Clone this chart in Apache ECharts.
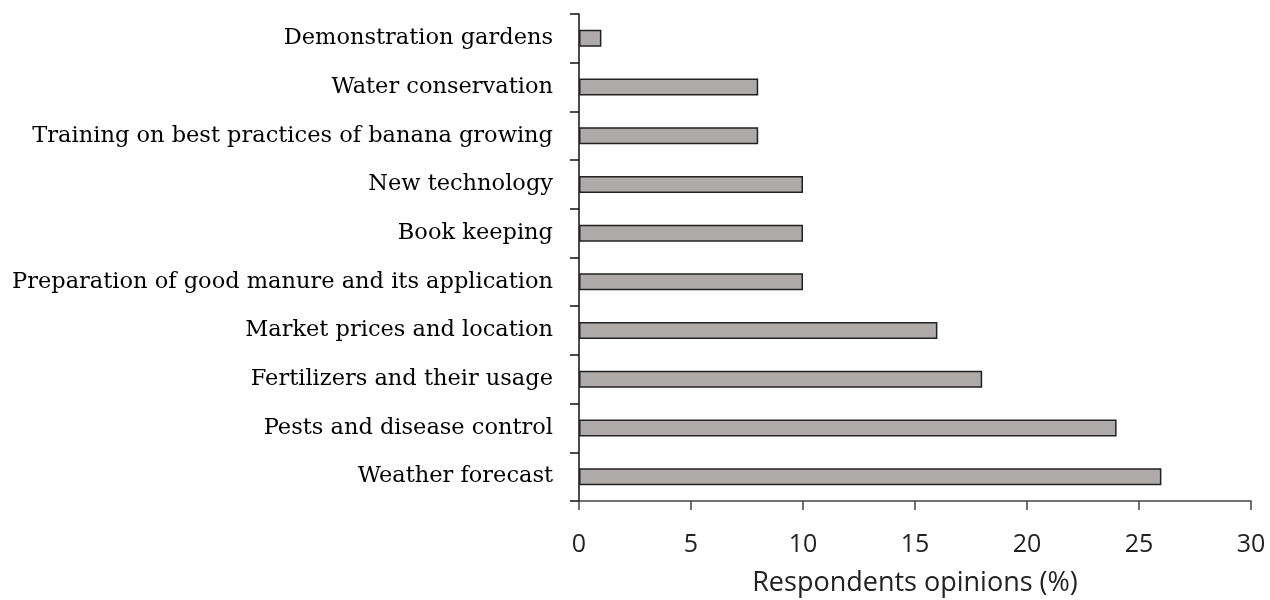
<!DOCTYPE html>
<html>
<head>
<meta charset="utf-8">
<script src="https://cdn.jsdelivr.net/npm/echarts@6/dist/echarts.min.js"></script>
<style>
  html, body { margin: 0; padding: 0; background: #fff; }
  #chart { width: 1270px; height: 600px; }
</style>
</head>
<body>
<div id="chart"></div>
<script>
// categories listed bottom to top (category axis starts at the bottom)
const topics = [
  'Weather forecast',
  'Pests and disease control',
  'Fertilizers and their usage',
  'Market prices and location',
  'Preparation of good manure and its application',
  'Book keeping',
  'New technology',
  'Training on best practices of banana growing',
  'Water conservation',
  'Demonstration gardens'
]
const opinions = [26, 24, 18, 16, 10, 10, 10, 8, 8, 1]
const xTicks = [0, 5, 10, 15, 20, 25, 30]

const chart = echarts.init(document.getElementById('chart'))

chart.setOption({
  animation: false,
  grid: {
    left: 579,
    right: 19,
    top: 14,
    bottom: 99,
    outerBoundsMode: 'none',
    containLabel: false
  },
  xAxis: {
    type: 'value',
    min: xTicks[0],
    max: xTicks[xTicks.length - 1],
    interval: 5,
    name: 'Respondents opinions (%)',
    nameLocation: 'middle',
    nameGap: 69,
    nameTextStyle: {
      fontFamily: 'Open Sans',
      fontSize: 27,
      color: '#222'
    },
    axisLine: { show: true, lineStyle: { color: '#444', width: 1.5 } },
    axisTick: { show: true, length: 9, lineStyle: { color: '#444', width: 1.5 } },
    axisLabel: {
      margin: 31,
      fontFamily: 'Open Sans',
      fontSize: 25,
      color: '#222'
    },
    splitLine: { show: false }
  },
  yAxis: {
    type: 'category',
    data: topics,
    axisLine: { show: true, lineStyle: { color: '#111', width: 1.5 } },
    axisTick: { show: true, length: 9, lineStyle: { color: '#111', width: 1.5 } },
    axisLabel: {
      margin: 26,
      fontFamily: 'DejaVu Serif',
      fontSize: 22.5,
      color: '#000'
    }
  },
  series: [{
    type: 'bar',
    data: opinions,
    barWidth: 17,
    itemStyle: {
      color: '#aeaaaa',
      borderColor: '#222',
      borderWidth: 1.5
    }
  }]
})
</script>
</body>
</html>
